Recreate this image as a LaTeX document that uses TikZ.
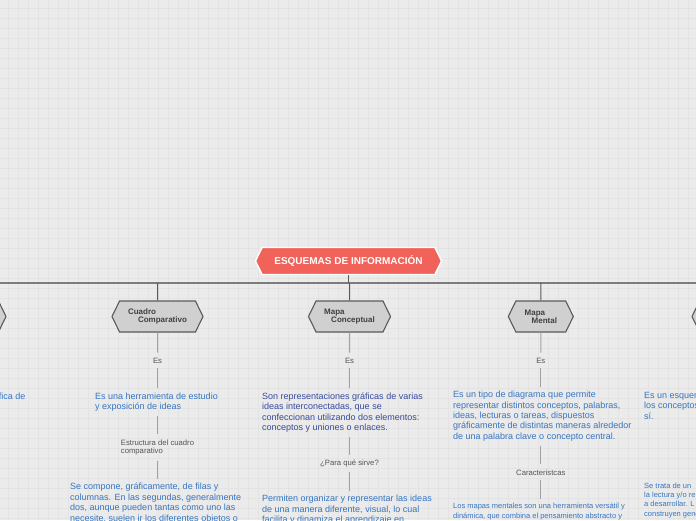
\documentclass[tikz,border=0pt]{standalone}
\usepackage{fontspec}
\setmainfont{Liberation Sans}
\usetikzlibrary{positioning,shapes.symbols}

\definecolor{bgcol}{HTML}{EBEBEB}
\definecolor{gridcol}{HTML}{E3E3E3}
\definecolor{titlered}{HTML}{F1625A}
\definecolor{hexgray}{HTML}{D0D0D0}
\definecolor{hexedge}{HTML}{5A5A5A}
\definecolor{hextext}{HTML}{404040}
\definecolor{barcol}{HTML}{7C7C7C}
\definecolor{subline}{HTML}{A2A2A2}
\definecolor{txtblue}{HTML}{3575C2}
\definecolor{txtnavy}{HTML}{374B9E}
\definecolor{lblgray}{HTML}{555555}

\begin{document}
\begin{tikzpicture}[x=1pt,y=-1pt,node distance=20pt]
  \tikzstyle{hexa}=[signal,signal to=west and east,signal pointer angle=128,draw=hexedge,line width=1.1pt,fill=hexgray,minimum height=31pt,inner sep=0pt,align=left,text=hextext,font=\fontsize{8}{7.8}\selectfont\bfseries]
  \tikzstyle{topic}=[hexa,fill=titlered,draw=white,line width=1.4pt,text=white,minimum height=27pt,font=\fontsize{10}{12}\selectfont\bfseries]
  \tikzstyle{desc}=[anchor=north west,align=left,inner xsep=0pt,inner ysep=4.5pt,text=txtblue,font=\fontsize{9}{10.4}\selectfont]
  \tikzstyle{note}=[desc,font=\fontsize{7.5}{9.3}\selectfont]
  \tikzstyle{lbl}=[align=left,inner xsep=1pt,inner ysep=5pt,text=lblgray,font=\fontsize{7.7}{8.5}\selectfont]
  \tikzstyle{bar}=[draw=barcol,line width=1.8pt]
  \tikzstyle{stem}=[draw=hexedge,line width=1pt]
  \tikzstyle{sub}=[draw=subline,line width=1pt]
  \tikzstyle{gridline}=[draw=gridcol,line width=0.6pt]

  \useasboundingbox (0,0) rectangle (696,520);
  \clip (0,0) rectangle (696,520);
  \fill[bgcol] (0,0) rectangle (696,520);
  \foreach \gx in {8,18,...,688} \draw[gridline] (\gx,0) -- (\gx,520);
  \foreach \gy in {8,18,...,518} \draw[gridline] (0,\gy) -- (696,\gy);

  % central topic and main branch
  \node[topic,minimum width=186pt] (esquemas) at (348.5,261) {ESQUEMAS DE INFORMACIÓN};
  \coordinate (barL) at (-60,283);
  \coordinate (barR) at (760,283);
  \draw[bar] (barL) -- (barR);
  \draw[stem] (esquemas) -- (esquemas |- barL);

  \node[hexa,minimum width=80pt] (sinoptico) at (-34,316.5) {};
  \node[hexa,minimum width=91pt] (cuadro) at (157.5,316.5) {Cuadro\\\hspace*{10pt}Comparativo};
  \node[hexa,minimum width=82pt] (concep) at (349.5,316.5) {Mapa\\\hspace*{7pt}Conceptual};
  \node[hexa,minimum width=65pt] (mental) at (540.8,316.5) {Mapa\\\hspace*{7pt}Mental};
  \node[hexa,minimum width=80pt] (otro) at (732,316.5) {};
  \foreach \h in {sinoptico,cuadro,concep,mental,otro}
    \draw[stem] (\h) -- (\h |- barL);

  % cuadro comparativo
  \node[lbl,below=of cuadro] (cuadroes) {Es};
  \node[desc] (cuadrodef) at (95,388) {Es una herramienta de estudio\\y exposición de ideas};
  \node[lbl] (cuadroest) at (157.5,447.5) {Estructura del cuadro\\comparativo};
  \node[desc] (cuadrocomp) at (70,478.5) {Se compone, gráficamente, de filas y\\columnas. En las segundas, generalmente\\dos, aunque pueden tantas como uno las\\necesite, suelen ir los diferentes objetos o};
  \draw[sub] (cuadro) -- (cuadroes);
  \draw[sub] (cuadroes) -- (cuadroes |- cuadrodef.north);
  \draw[sub] (cuadroest |- cuadrodef.south) -- (cuadroest);
  \draw[sub] (cuadroest) -- (cuadroest |- cuadrocomp.north);

  % mapa conceptual
  \node[lbl,below=of concep] (conceptes) {Es};
  \node[desc,text=txtnavy] (conceptdef) at (262,388) {Son representaciones gráficas de varias\\ideas interconectadas, que se\\confeccionan utilizando dos elementos:\\conceptos y uniones o enlaces.};
  \node[lbl] (conceptpara) at (349.5,463.5) {¿Para qué sirve?};
  \node[desc] (conceptuso) at (262,490.5) {Permiten organizar y representar las ideas\\de una manera diferente, visual, lo cual\\facilita y dinamiza el aprendizaje en};
  \draw[sub] (concep) -- (conceptes);
  \draw[sub] (conceptes) -- (conceptes |- conceptdef.north);
  \draw[sub] (conceptpara |- conceptdef.south) -- (conceptpara);
  \draw[sub] (conceptpara) -- (conceptpara |- conceptuso.north);

  % mapa mental
  \node[lbl,below=of mental] (mentales) {Es};
  \node[desc] (mentaldef) at (453,386.5) {Es un tipo de diagrama que permite\\representar distintos conceptos, palabras,\\ideas, lecturas o tareas, dispuestos\\gráficamente de distintas maneras alrededor\\de una palabra clave o concepto central.};
  \node[lbl] (mentalcar) at (540.8,472.3) {Caracteristcas};
  \node[note] (mentalnota) at (453,498.5) {Los mapas mentales son una herramienta versátil y\\dinámica, que combina el pensamiento abstracto y};
  \draw[sub] (mental) -- (mentales);
  \draw[sub] (mentales) -- (mentales |- mentaldef.north);
  \draw[sub] (mentalcar |- mentaldef.south) -- (mentalcar);
  \draw[sub] (mentalcar) -- (mentalcar |- mentalnota.north);

  % cut columns at the edges
  \node[desc,anchor=north east] (sinopdef) at (25.5,388) {gráfica de};
  \node[desc] (otrodef) at (644,387.5) {Es un esquema\\los conceptos\\sí.};
  \node[note] (otronota) at (644,478) {Se trata de un\\la lectura y/o re\\a desarrollar. L\\construyen gene};
\end{tikzpicture}
\end{document}
